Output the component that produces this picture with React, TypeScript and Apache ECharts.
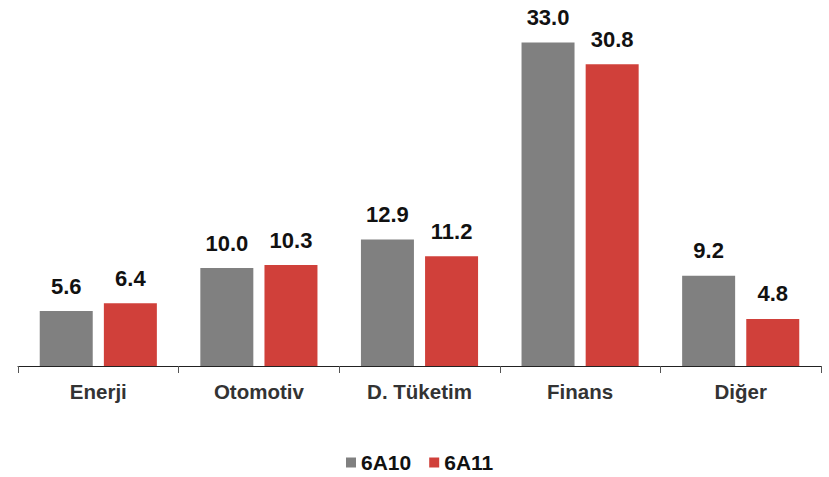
import React, { useEffect, useRef } from "react";
import * as echarts from "echarts";

const categories = ["Enerji", "Otomotiv", "D. Tüketim", "Finans", "Diğer"];
const series6A10 = [5.6, 10.0, 12.9, 33.0, 9.2];
const series6A11 = [6.4, 10.3, 11.2, 30.8, 4.8];
const seriesNames = ["6A10", "6A11"];

export default function App() {
  const ref = useRef<HTMLDivElement>(null);
  useEffect(() => {
    document.body.style.margin = "0";
    const chart = echarts.init(ref.current!, null, { renderer: "svg" });
    const font = "Liberation Sans, Arial, sans-serif";
    const label = {
      show: true,
      position: "top",
      distance: 14,
      fontFamily: font,
      fontWeight: "bold",
      fontSize: 22,
      color: "#111",
      formatter: (p: any) => p.value.toFixed(1),
    };
    chart.setOption({
      animation: false,
      grid: { left: 18, right: 8, top: 23, bottom: 111, containLabel: false },
      legend: {
        top: 452,
        left: 346,
        padding: 0,
        itemWidth: 10,
        itemHeight: 10,
        itemGap: 18,
        icon: "rect",
        textStyle: { fontFamily: font, fontWeight: "bold", fontSize: 21, color: "#111" },
        data: seriesNames,
      },
      xAxis: {
        type: "category",
        data: categories,
        axisLine: { lineStyle: { color: "#222", width: 1 } },
        axisTick: { show: true, length: 7, lineStyle: { color: "#555" } },
        axisLabel: { margin: 15, fontFamily: font, fontWeight: "bold", fontSize: 20.5, color: "#333" },
      },
      yAxis: { type: "value", min: 0, max: 35, show: false, splitLine: { show: false } },
      series: [
        {
          name: seriesNames[0],
          type: "bar",
          data: series6A10,
          barWidth: 53,
          barGap: "21%",
          itemStyle: { color: "#808080" },
          label,
        },
        {
          name: seriesNames[1],
          type: "bar",
          data: series6A11,
          barWidth: 53,
          barGap: "21%",
          itemStyle: { color: "#d0403a" },
          label,
        },
      ],
    });
    return () => chart.dispose();
  }, []);
  return <div ref={ref} style={{ width: 829, height: 477 }} />;
}
